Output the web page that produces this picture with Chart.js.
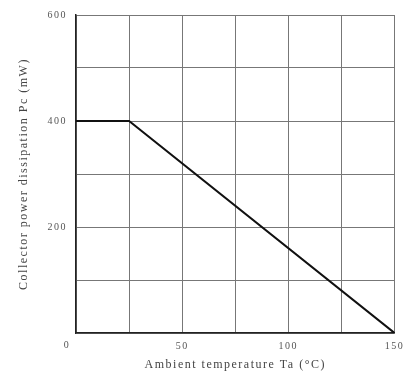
<!DOCTYPE html>
<html>
<head>
<meta charset="utf-8">
<script src="https://cdn.jsdelivr.net/npm/chart.js@4/dist/chart.umd.min.js"></script>
<style>
  html, body { margin: 0; padding: 0; background: #fff; }
  #wrap { width: 409px; height: 372px; }
</style>
</head>
<body>
<div id="wrap"><canvas id="myChart"></canvas></div>
<script>
// derating curve Pc - Ta
let tempPoints = [0, 25, 150];
let powerPoints = [400, 400, 0];
let xTickLabels = [0, 50, 100, 150];
let yTickLabels = [200, 400, 600];
let xTitle = "Ambient temperature Ta (°C)";
let yTitle = "Collector power dissipation Pc (mW)";

let serif = "'Liberation Serif', 'DejaVu Serif', serif";

// scanned datasheet lettering is spread out a bit
let spacing = {
    id: "spacing",
    beforeDraw(chart){ chart.ctx.letterSpacing = "1.5px"; }
};

// the lone "0" sits at the corner, below and left of the origin
let originLabel = {
    id: "originLabel",
    afterDraw(chart){
        let c = chart.ctx;
        let x = chart.scales.x.getPixelForValue(0);
        let y = chart.scales.y.getPixelForValue(0);
        c.save();
        c.font = "10px " + serif;
        c.fillStyle = "#555";
        c.textAlign = "center";
        c.textBaseline = "top";
        c.fillText("0", x - 9, y + 7);
        c.restore();
    }
};

let ctx = document.getElementById("myChart").getContext("2d");
let myChart = new Chart(ctx, {
    type: "line",
    data: {
        datasets: [{
            data: tempPoints.map((t, i) => ({x: t, y: powerPoints[i]})),
            borderColor: "#111",
            borderWidth: 2,
            pointRadius: 0,
            tension: 0,
            fill: false
        }]
    },
    options: {
        responsive: true,
        maintainAspectRatio: false,
        animation: false,
        layout: { padding: { top: 15, right: 12, left: 17, bottom: 0 } },
        plugins: { legend: { display: false }, tooltip: { enabled: false } },
        scales: {
            x: {
                type: "linear",
                min: 0, max: 150,
                afterBuildTicks(scale){
                    scale.ticks = [0, 25, 50, 75, 100, 125, 150].map(v => ({value: v}));
                },
                afterFit(scale){ scale.height = 39; },
                grid: { color: "#777", lineWidth: 1, drawTicks: false },
                border: { color: "#222", width: 1.5 },
                ticks: {
                    padding: 7,
                    maxRotation: 0,
                    autoSkip: false,
                    color: "#555",
                    font: { family: serif, size: 10 },
                    callback: v => (xTickLabels.includes(v) && v !== 0) ? String(v) : ""
                },
                title: {
                    display: true,
                    text: xTitle,
                    color: "#444",
                    font: { family: serif, size: 12 },
                    padding: { top: 0, bottom: 0 }
                }
            },
            y: {
                min: 0, max: 600,
                afterBuildTicks(scale){
                    scale.ticks = [0, 100, 200, 300, 400, 500, 600].map(v => ({value: v}));
                },
                afterFit(scale){ scale.width = 59; },
                grid: { color: "#777", lineWidth: 1, drawTicks: false },
                border: { color: "#222", width: 1.5 },
                ticks: {
                    padding: 9,
                    autoSkip: false,
                    color: "#555",
                    font: { family: serif, size: 10 },
                    callback: v => yTickLabels.includes(v) ? String(v) : ""
                },
                title: {
                    display: true,
                    text: yTitle,
                    color: "#444",
                    font: { family: serif, size: 12 },
                    padding: { top: 0, bottom: 0 }
                }
            }
        }
    },
    plugins: [spacing, originLabel]
});
</script>
</body>
</html>
